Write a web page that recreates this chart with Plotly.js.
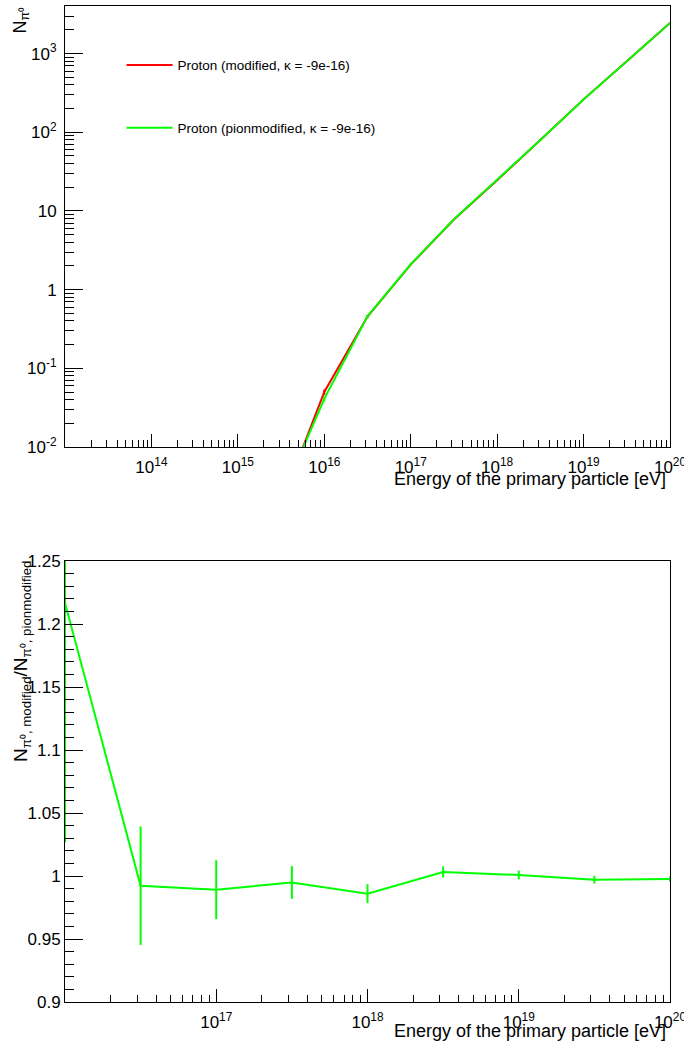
<!DOCTYPE html>
<html><head><meta charset="utf-8">
<script src="https://cdn.plot.ly/plotly-3.0.1.min.js"></script>
<style>html,body{margin:0;padding:0;background:#fff}#chart{width:684px;height:1045px}</style>
</head><body><div id="chart"></div>
<script>
// ---- data ----
const energyTop = [3.162e15, 1e16, 3.162e16, 1e17, 3.162e17, 1e18, 3.162e18, 1e19, 3.162e19, 1e20];
const nPi0Modified = [0.0019, 0.050, 0.455, 2.08, 7.8, 24.6, 80, 262, 800, 2450];
const nPi0ModifiedErr = [0.0003, 0.004, 0.02, 0.04, 0.1, 0.2, 0.5, 1.2, 3, 6];
const nPi0PionModified = [0.0022, 0.041, 0.459, 2.10, 7.84, 24.9, 79.8, 261.7, 802, 2457];
const nPi0PionModifiedErr = [0.0003, 0.003, 0.02, 0.04, 0.1, 0.2, 0.5, 1.2, 3, 6];

const energyRatio = [1e16, 3.162e16, 1e17, 3.162e17, 1e18, 3.162e18, 1e19, 3.162e19, 1e20];
const ratio = [1.2167, 0.9923, 0.9891, 0.9949, 0.9860, 1.0032, 1.0008, 0.9971, 0.9976];
const ratioErr = [0.19, 0.047, 0.0234, 0.013, 0.0075, 0.0044, 0.0035, 0.003, 0.002];

const legendNames = ['Proton (modified, \u03ba = -9e-16)', 'Proton (pionmodified, \u03ba = -9e-16)'];
const xTickValsTop = [1e14, 1e15, 1e16, 1e17, 1e18, 1e19, 9.999e19];
const xTickTextTop = ['10<sup>14</sup>', '10<sup>15</sup>', '10<sup>16</sup>', '10<sup>17</sup>', '10<sup>18</sup>', '10<sup>19</sup>', '10<sup>20</sup>'];
const xTickValsBot = [1e17, 1e18, 1e19, 9.999e19];
const xTickTextBot = ['10<sup>17</sup>', '10<sup>18</sup>', '10<sup>19</sup>', '10<sup>20</sup>'];
const yTickValsTop = [0.01, 0.1, 1, 10, 100, 1000];
const yTickTextTop = ['10<sup>-2</sup>', '10<sup>-1</sup>', '1', '10', '10<sup>2</sup>', '10<sup>3</sup>'];
const yTickValsBot = [0.9, 0.95, 1, 1.05, 1.1, 1.15, 1.2, 1.25];
const yTickTextBot = ['0.9', '0.95', '1', '1.05', '1.1', '1.15', '1.2', '1.25'];

// minor tick positions for log axes
function logMinor(e0, e1) {
  const v = [];
  for (let e = e0; e <= e1; e++) for (let m = 2; m <= 9; m++) v.push(m * Math.pow(10, e));
  return v;
}

const FONT = 'Liberation Sans, Arial, Helvetica, sans-serif';
const RED = '#ff0000', GREEN = '#00ff00';

const traces = [
  {x: energyTop, y: nPi0Modified, type: 'scatter', mode: 'lines', name: legendNames[0],
   legendgroup: 'a', line: {color: RED, width: 2},
   error_y: {type: 'data', array: nPi0ModifiedErr, visible: true, color: RED, thickness: 2, width: 0},
   xaxis: 'x', yaxis: 'y'},
  {x: energyTop, y: nPi0PionModified, type: 'scatter', mode: 'lines', name: legendNames[1],
   legendgroup: 'b', line: {color: GREEN, width: 2},
   error_y: {type: 'data', array: nPi0PionModifiedErr, visible: true, color: GREEN, thickness: 2, width: 0},
   xaxis: 'x', yaxis: 'y'},
  {x: energyRatio, y: ratio, type: 'scatter', mode: 'lines', showlegend: false,
   line: {color: GREEN, width: 2},
   error_y: {type: 'data', array: ratioErr, visible: true, color: GREEN, thickness: 2, width: 0},
   xaxis: 'x2', yaxis: 'y2'}
];

const axBase = {
  showgrid: false, zeroline: false, showline: true, linecolor: '#000', linewidth: 1,
  mirror: true, ticks: 'inside', tickcolor: '#000', tickwidth: 1,
  tickfont: {family: FONT, size: 17, color: '#000'}, tickmode: 'array',
  ticklabeloverflow: 'allow'
};

const topDomain = [0.55723, 1];
const botDomain = [0, 0.44277];

const layout = {
  width: 684, height: 1045,
  margin: {l: 65, r: 14, t: 6, b: 43, pad: 0},
  paper_bgcolor: '#fff', plot_bgcolor: '#fff',
  font: {family: FONT, color: '#000'},
  showlegend: true,
  legend: {x: 0.0935, y: 0.956, xanchor: 'left', yanchor: 'top', bgcolor: 'rgba(0,0,0,0)',
           borderwidth: 0, font: {family: FONT, size: 13.5, color: '#000'},
           traceorder: 'grouped', tracegroupgap: 42, itemwidth: 46},
  xaxis: Object.assign({}, axBase, {type: 'log', range: [13, 20], domain: [0, 1], anchor: 'y',
    tickvals: xTickValsTop, ticktext: xTickTextTop, ticklen: 13, ticklabelstandoff: 5,
    minor: {tickmode: 'array', tickvals: logMinor(13, 19), ticks: 'inside', ticklen: 7, tickcolor: '#000', tickwidth: 1, showgrid: false}}),
  yaxis: Object.assign({}, axBase, {type: 'log', range: [-2, 3.605], domain: topDomain, anchor: 'x',
    tickvals: yTickValsTop, ticktext: yTickTextTop, ticklen: 18, ticklabelstandoff: 4,
    minor: {tickmode: 'array', tickvals: logMinor(-2, 3), ticks: 'inside', ticklen: 9, tickcolor: '#000', tickwidth: 1, showgrid: false}}),
  xaxis2: Object.assign({}, axBase, {type: 'log', range: [16, 20], domain: [0, 1], anchor: 'y2',
    tickvals: xTickValsBot, ticktext: xTickTextBot, ticklen: 13, ticklabelstandoff: 5,
    minor: {tickmode: 'array', tickvals: logMinor(16, 19), ticks: 'inside', ticklen: 7, tickcolor: '#000', tickwidth: 1, showgrid: false}}),
  yaxis2: Object.assign({}, axBase, {type: 'linear', range: [0.9, 1.25], domain: botDomain, anchor: 'x2',
    tickvals: yTickValsBot, ticktext: yTickTextBot, ticklen: 18, ticklabelstandoff: 0,
    minor: {dtick: 0.01, tick0: 0.9, ticks: 'inside', ticklen: 9, tickcolor: '#000', tickwidth: 1, showgrid: false}}),
  annotations: [
    {text: 'Energy of the primary particle [eV]', xref: 'paper', yref: 'paper', x: 0.9967, y: 0.5251,
     xanchor: 'right', yanchor: 'middle', showarrow: false, font: {family: FONT, size: 18, color: '#000'}},
    {text: 'Energy of the primary particle [eV]', xref: 'paper', yref: 'paper', x: 0.9967, y: -0.029,
     xanchor: 'right', yanchor: 'middle', showarrow: false, font: {family: FONT, size: 18, color: '#000'}},
    {text: 'N<sub>\u03c0\u2070</sub>', xref: 'paper', yref: 'paper', x: -0.0727, y: 1.001,
     xanchor: 'center', yanchor: 'top', textangle: -90, showarrow: false, font: {family: FONT, size: 18, color: '#000'}},
    {text: 'N<sub>\u03c0\u2070, modified</sub>/N<sub>\u03c0\u2070, pionmodified</sub>', xref: 'paper', yref: 'paper', x: -0.071, y: 0.4458,
     xanchor: 'center', yanchor: 'top', textangle: -90, showarrow: false, font: {family: FONT, size: 19, color: '#000'}}
  ]
};

Plotly.newPlot('chart', traces, layout, {staticPlot: true, displayModeBar: false});
</script>
</body></html>
